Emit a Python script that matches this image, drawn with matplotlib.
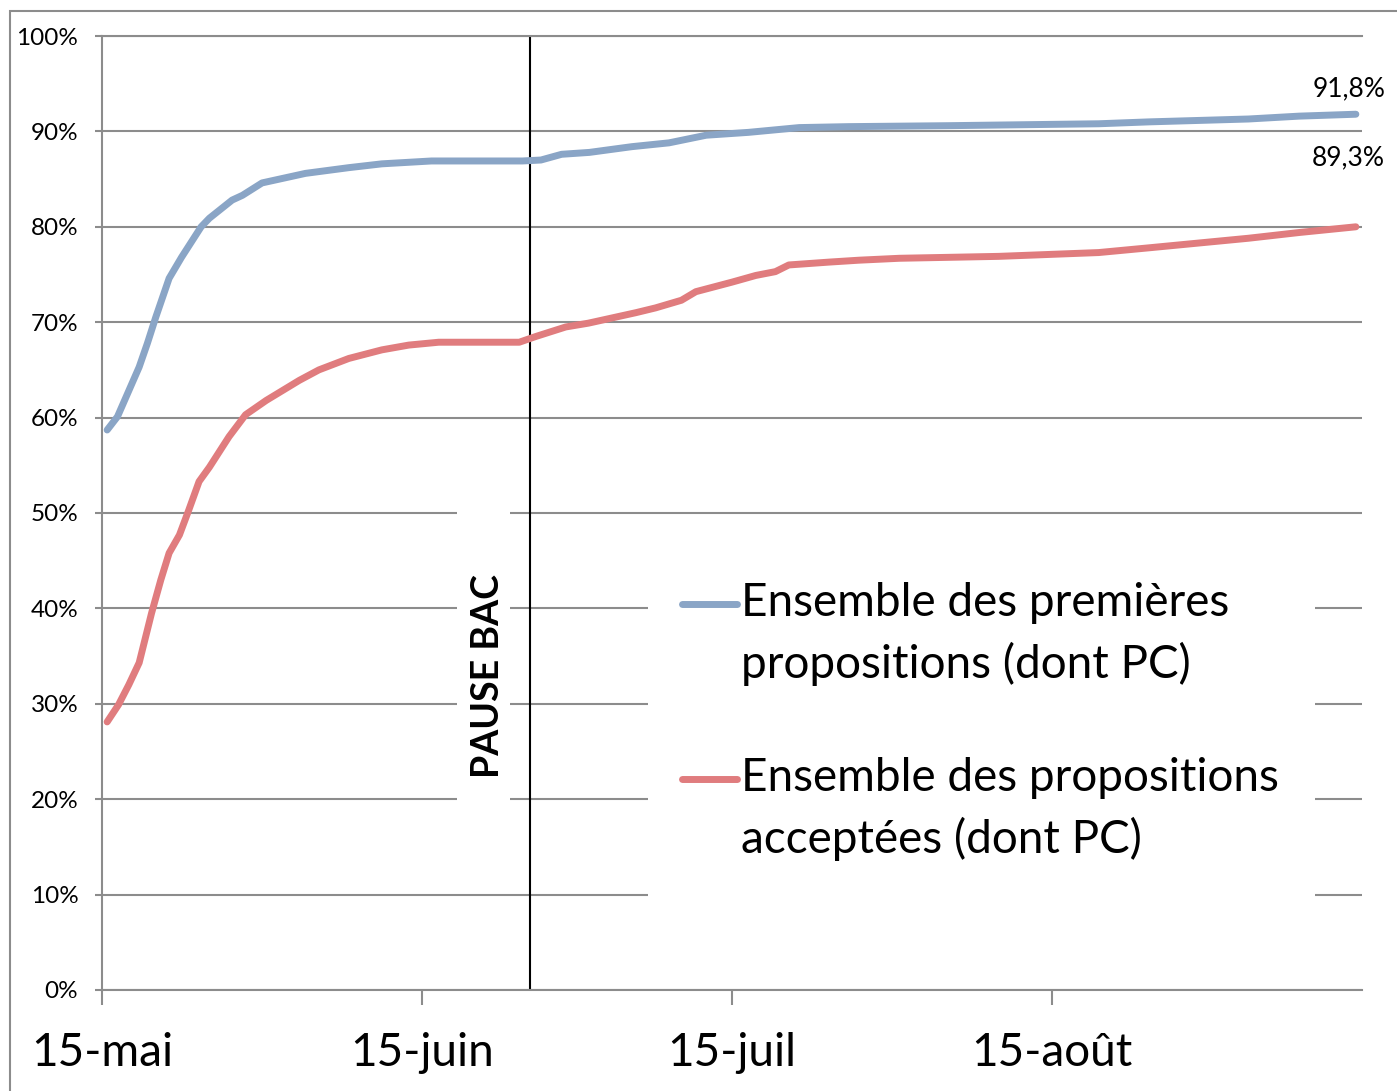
import matplotlib.pyplot as plt
from matplotlib.patches import Rectangle
from matplotlib.legend_handler import HandlerLine2D
import numpy as np

# days counted from 15 May
days_first = [0.5, 1.5, 3.6, 4.4, 5.2, 6.5, 7.7, 9.6, 10.4, 12.6, 13.6, 15.5, 19.7, 23.9, 27.1,
              31.9, 40.7, 42.5, 44.5, 47.2, 51.3, 54.9, 58.5, 62.6, 67.5, 72.3, 82.0, 96.5,
              101.4, 111.0, 115.9, 121.4]
first = [58.7, 60.1, 65.3, 67.8, 70.5, 74.6, 76.8, 80.0, 80.9, 82.8, 83.3, 84.6, 85.6, 86.2, 86.6,
         86.9, 86.9, 87.0, 87.6, 87.8, 88.4, 88.8, 89.6, 89.9, 90.4, 90.5, 90.6, 90.8,
         91.0, 91.3, 91.6, 91.8]

days_acc = [0.5, 1.6, 2.6, 3.6, 4.8, 5.7, 6.5, 7.5, 8.4, 9.4, 10.4, 12.3, 13.9, 15.9, 19.1, 21.0,
            23.9, 27.1, 29.7, 32.6, 40.4, 42.0, 44.9, 47.1, 51.7, 53.6, 56.1, 57.5, 61.0, 63.3,
            65.2, 66.5, 70.4, 73.3, 77.2, 86.8, 96.5, 101.4, 106.2, 111.0, 115.9, 121.4]
accepted = [28.1, 29.9, 32.0, 34.3, 39.5, 43.0, 45.8, 47.7, 50.3, 53.3, 54.8, 58.0, 60.3, 61.8, 63.9, 65.0,
            66.2, 67.1, 67.6, 67.9, 67.9, 68.5, 69.5, 69.9, 71.0, 71.5, 72.3, 73.2, 74.2, 74.9,
            75.3, 76.0, 76.3, 76.5, 76.7, 76.9, 77.3, 77.8, 78.3, 78.8, 79.4, 80.0]

tick_days = [0, 31, 61, 92]
tick_labels = ["15-mai", "15-juin", "15-juil", "15-août"]
pause_day = 41.4

label_first = "Ensemble des premières\npropositions (dont PC)"
label_acc = "Ensemble des propositions\nacceptées (dont PC)"

plt.rcParams['font.family'] = ['Lato', 'DejaVu Sans']
grey = "#8c8c8c"
blue = "#8aa5c6"
red = "#e07c7e"
LINESP = 1.5


class FirstLineHandler(HandlerLine2D):
    # put the legend key next to the first line of a two-line label
    def create_artists(self, legend, orig_handle, xdescent, ydescent, width, height, fontsize, trans):
        arts = super().create_artists(legend, orig_handle, xdescent, ydescent, width, height, fontsize, trans)
        for a in arts:
            if hasattr(a, "set_ydata"):
                a.set_ydata(np.asarray(a.get_ydata()) + 0.45 * LINESP * fontsize)
        return arts


fig = plt.figure(figsize=(13.97, 10.91), dpi=100)
ax = fig.add_axes([0.073, 0.0926, 0.902, 0.8744])

# outer chart border
fig.patches.append(Rectangle((10 / 1397, -0.1), 1.2, 1.1 - 11 / 1091, transform=fig.transFigure,
                             fill=False, edgecolor=grey, lw=1.5))

l1, = ax.plot(days_first, first, color=blue, lw=5, solid_capstyle="round", label=label_first, zorder=3)
l2, = ax.plot(days_acc, accepted, color=red, lw=5, solid_capstyle="round", label=label_acc, zorder=3)
ax.axvline(pause_day, color="black", lw=1.5, zorder=2)

ax.set_xlim(0, 122)
ax.set_ylim(0, 100)
ax.set_yticks(range(0, 101, 10))
ax.set_yticklabels([f"{v}%" for v in range(0, 101, 10)], fontsize=17.5)
ax.set_xticks(tick_days)
ax.set_xticklabels(tick_labels, fontsize=33)
ax.tick_params(axis="y", length=5, width=1.5, color=grey, pad=12)
ax.tick_params(axis="x", length=11, width=1.5, color=grey, pad=19)
ax.grid(axis="y", color=grey, lw=1.5)
ax.set_axisbelow(True)
for s in ["left", "bottom", "top"]:
    ax.spines[s].set_color(grey)
    ax.spines[s].set_linewidth(1.5)
ax.spines["right"].set_visible(False)

# white boxes behind text/legend hide the gridlines
ax.add_patch(Rectangle((0.282, 0.16), 0.042, 0.37, transform=ax.transAxes, fc="white", ec="none", zorder=1))
ax.add_patch(Rectangle((0.433, 0.05), 0.53, 0.42, transform=ax.transAxes, fc="white", ec="none", zorder=1))

ax.text(0.306, 0.329, "PAUSE BAC", transform=ax.transAxes, rotation=90, fontsize=27,
        fontweight="bold", ha="center", va="center", zorder=4)

ax.annotate("91,8%", xy=(days_first[-1], first[-1]), xytext=(21, 18), textcoords="offset points",
            ha="right", va="center", fontsize=19, annotation_clip=False)
ax.annotate("89,3%", xy=(days_acc[-1], accepted[-1]), xytext=(21, 50), textcoords="offset points",
            ha="right", va="center", fontsize=19, annotation_clip=False)

leg = ax.legend(handles=[l1, l2], loc="upper left", bbox_to_anchor=(0.442, 0.452), frameon=False,
                fontsize=33, handlelength=1.2, handletextpad=0.1, labelspacing=1.55, borderpad=0,
                handler_map={l1: FirstLineHandler(), l2: FirstLineHandler()})
for t in leg.get_texts():
    t.set_linespacing(LINESP)

fig.savefig("out.png", dpi=100)
